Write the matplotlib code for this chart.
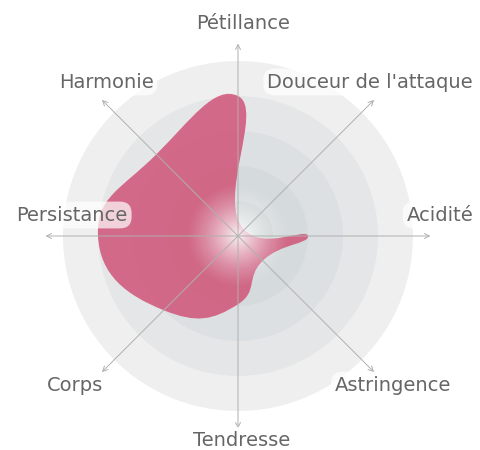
import numpy as np
import matplotlib
matplotlib.use("Agg")
import matplotlib.pyplot as plt
from matplotlib.patches import Circle, PathPatch
from matplotlib.path import Path

plt.rcParams['font.family'] = ['DejaVu Sans']

# data
labels = ["Pétillance", "Douceur de l'attaque", "Acidité", "Astringence",
          "Tendresse", "Corps", "Persistance", "Harmonie"]
values = [4.0, 0.25, 2.0, 1.0, 1.95, 3.0, 4.0, 3.3]
rings = [5, 4, 3, 2, 1]
ring_colors = ["#efefef", "#e5e6e7", "#dde0e2", "#d5dadc", "#cbd2d3"]

# label positions (units of one ring, centre at 0,0)
label_pos = [(0.14, 6.06), (3.77, 4.4), (5.77, 0.6), (4.43, -4.26),
             (0.11, -5.83), (-4.66, -4.26), (-4.74, 0.6), (-3.77, 4.4)]

cx, cy, px = 238, 236, 35.0
fig = plt.figure(figsize=(4.8, 4.5), dpi=100)
ax = fig.add_axes([0, 0, 1, 1])

for r, c in zip(rings, ring_colors):
    ax.add_patch(Circle((0, 0), r, fc=c, ec='none', zorder=1))

# closed centripetal catmull-rom blob, control arms a bit longer for roundness
n = len(values)
ang = np.pi / 2 - np.arange(n) * 2 * np.pi / n
P = np.column_stack([np.array(values) * np.cos(ang), np.array(values) * np.sin(ang)])
s = 1.5
verts = [P[0]]
codes = [Path.MOVETO]
for i in range(n):
    p0, p1, p2, p3 = P[i - 1], P[i], P[(i + 1) % n], P[(i + 2) % n]
    l01 = np.linalg.norm(p1 - p0) ** 0.5
    l12 = np.linalg.norm(p2 - p1) ** 0.5
    l23 = np.linalg.norm(p3 - p2) ** 0.5
    a = 2 * l01 ** 2 + 3 * l01 * l12 + l12 ** 2
    c1 = (p1 * a - p0 * l12 ** 2 + p2 * l01 ** 2) / (3 * l01 * (l01 + l12))
    b = 2 * l23 ** 2 + 3 * l23 * l12 + l12 ** 2
    c2 = (p2 * b + p1 * l23 ** 2 - p3 * l12 ** 2) / (3 * l23 * (l23 + l12))
    verts += [p1 + s * (c1 - p1), p2 + s * (c2 - p2), p2]
    codes += [Path.CURVE4] * 3
ax.add_patch(PathPatch(Path(verts, codes), fc='#cf4a70', ec='none', alpha=0.8, zorder=2))

# white glow in the centre
g = np.linspace(-1.6, 1.6, 200)
X, Y = np.meshgrid(g, g)
D = np.sqrt(X ** 2 + Y ** 2)
A = np.clip(1 - D / 1.5, 0, 1) ** 1.3 * 0.9
img = np.ones((200, 200, 4))
img[..., 3] = A
ax.imshow(img, extent=(-1.6, 1.6, -1.6, 1.6), zorder=3, interpolation='bilinear')

# spokes
for t in ang:
    ax.annotate("", xy=(5.5 * np.cos(t), 5.5 * np.sin(t)), xytext=(0, 0),
                arrowprops=dict(arrowstyle='->', color='#b0b0b0', lw=0.7,
                                mutation_scale=9, shrinkA=0, shrinkB=0), zorder=4)

for lab, (x, y) in zip(labels, label_pos):
    ax.text(x, y, lab, ha='center', va='center', fontsize=14, color='#666666', zorder=5,
            bbox=dict(boxstyle='round,pad=0.2,rounding_size=0.6', fc='white', ec='none', alpha=0.7))

ax.set_xlim(-cx / px, (480 - cx) / px)
ax.set_ylim(-(450 - cy) / px, cy / px)
ax.set_aspect('equal')
ax.axis('off')
fig.savefig("out.png", dpi=100, facecolor='white')
